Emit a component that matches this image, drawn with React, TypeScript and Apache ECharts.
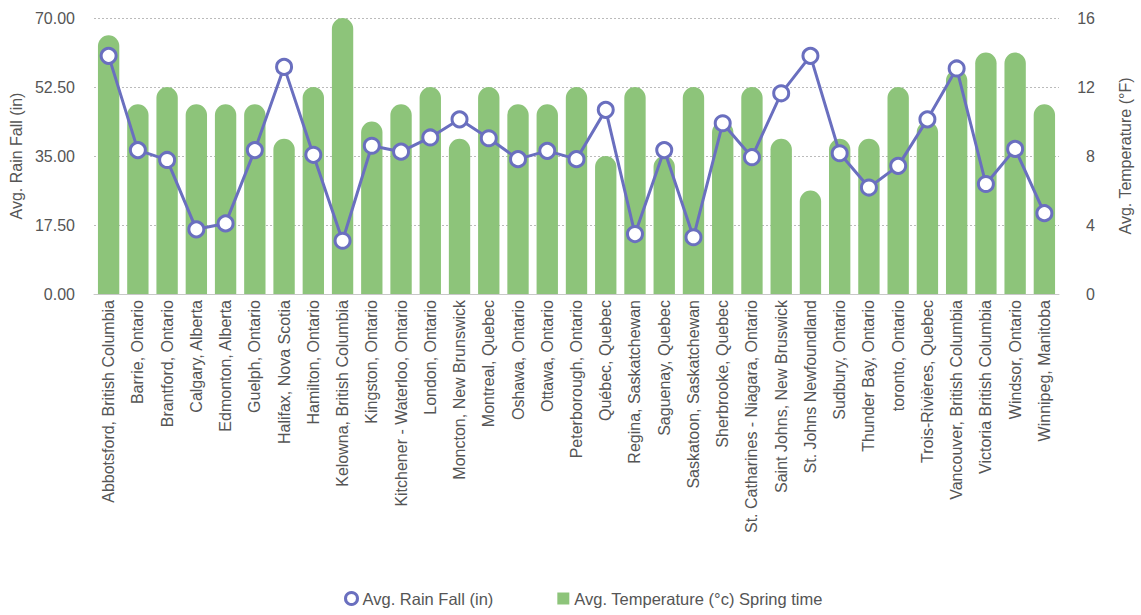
import React, { useEffect, useRef } from "react";
import * as echarts from "echarts";

const cities = [
  "Abbotsford, British Columbia",
  "Barrie, Ontario",
  "Brantford, Ontario",
  "Calgary, Alberta",
  "Edmonton, Alberta",
  "Guelph, Ontario",
  "Halifax, Nova Scotia",
  "Hamilton, Ontario",
  "Kelowna, British Columbia",
  "Kingston, Ontario",
  "Kitchener - Waterloo, Ontario",
  "London, Ontario",
  "Moncton, New Brunswick",
  "Montreal, Quebec",
  "Oshawa, Ontario",
  "Ottawa, Ontario",
  "Peterborough, Ontario",
  "Québec, Quebec",
  "Regina, Saskatchewan",
  "Saguenay, Quebec",
  "Saskatoon, Saskatchewan",
  "Sherbrooke, Quebec",
  "St. Catharines - Niagara, Ontario",
  "Saint Johns, New Bruswick",
  "St. Johns Newfoundland",
  "Sudbury, Ontario",
  "Thunder Bay, Ontario",
  "toronto, Ontario",
  "Trois-Rivières, Quebec",
  "Vancouver, British Columbia",
  "Victoria British Columbia",
  "Windsor, Ontario",
  "Winnipeg, Manitoba",
];

const rainFall = [
  60.4, 36.5, 34.0, 16.4, 17.9, 36.5, 57.6, 35.3, 13.5, 37.6, 36.1, 39.7,
  44.3, 39.5, 34.2, 36.3, 34.2, 46.7, 15.2, 36.5, 14.4, 43.3, 34.7, 50.9,
  60.4, 35.7, 27.0, 32.5, 44.3, 57.2, 27.9, 36.8, 20.5,
];

const temperature = [
  15, 11, 12, 11, 11, 11, 9, 12, 16, 10, 11, 12, 9, 12, 11, 11, 12, 8, 12, 8,
  12, 10, 12, 9, 6, 9, 9, 12, 10, 13, 14, 14, 11,
];

const rainTicks = { min: 0, max: 70, interval: 17.5 };
const tempTicks = { min: 0, max: 16, interval: 4 };

const FONT = "'Liberation Sans', Arial, sans-serif";
const TEXT = "#555555";
const LINE_COLOR = "#6a6fbf";
const BAR_COLOR = "#8dc47a";

export default function App() {
  const ref = useRef<HTMLDivElement>(null);
  useEffect(() => {
    if (!ref.current) return;
    const chart = echarts.init(ref.current, null, { renderer: "svg" });
    chart.setOption({
      animation: false,
      textStyle: { fontFamily: FONT },
      grid: { left: 94, right: 71, top: 18, bottom: 321, containLabel: false },
      legend: {
        bottom: 3,
        left: 339,
        itemGap: 64,
        itemWidth: 12,
        itemHeight: 12,
        itemTextGap: 7,
        textStyle: { fontFamily: FONT, fontSize: 16.5, color: TEXT },
        data: [
          {
            name: "Avg. Rain Fall (in)",
            icon: "circle",
            itemStyle: { color: "#ffffff", borderColor: LINE_COLOR, borderWidth: 3 },
          },
          { name: "Avg. Temperature (°c) Spring time", icon: "rect" },
        ],
      },
      xAxis: {
        type: "category",
        data: cities,
        axisLine: { lineStyle: { color: "#c8c8c8" } },
        axisTick: { show: false },
        axisLabel: {
          rotate: 90,
          interval: 0,
          margin: 6,
          fontSize: 16,
          color: TEXT,
          fontFamily: FONT,
        },
      },
      yAxis: [
        {
          type: "value",
          ...rainTicks,
          name: "Avg. Rain Fall (in)",
          nameLocation: "middle",
          nameGap: 68,
          nameRotate: 90,
          nameTextStyle: { fontSize: 16, color: TEXT, fontFamily: FONT },
          axisLine: { show: false },
          axisTick: { show: false },
          axisLabel: {
            fontSize: 16,
            color: TEXT,
            margin: 19,
            fontFamily: FONT,
            formatter: (v: number) => v.toFixed(2),
          },
          splitLine: { lineStyle: { color: "#bbbbbb", type: [2, 2] } },
        },
        {
          type: "value",
          ...tempTicks,
          position: "right",
          name: "Avg. Temperature (°F)",
          nameLocation: "middle",
          nameGap: 58,
          nameRotate: 90,
          nameTextStyle: { fontSize: 16, color: TEXT, fontFamily: FONT },
          axisLine: { show: false },
          axisTick: { show: false },
          axisLabel: {
            fontSize: 16,
            color: TEXT,
            margin: 36,
            align: "right",
            fontFamily: FONT,
          },
          splitLine: { show: false },
        },
      ],
      series: [
        {
          name: "Avg. Temperature (°c) Spring time",
          type: "bar",
          yAxisIndex: 1,
          data: temperature,
          barCategoryGap: "27%",
          itemStyle: { color: BAR_COLOR, borderRadius: [11, 11, 0, 0] },
          z: 1,
        },
        {
          name: "Avg. Rain Fall (in)",
          type: "line",
          yAxisIndex: 0,
          data: rainFall,
          symbol: "circle",
          symbolSize: 15,
          lineStyle: { color: LINE_COLOR, width: 3 },
          itemStyle: { color: "#ffffff", borderColor: LINE_COLOR, borderWidth: 3 },
          z: 3,
        },
      ],
    });
    return () => chart.dispose();
  }, []);
  return (
    <div
      ref={ref}
      style={{ position: "absolute", left: 0, top: 0, width: 1141, height: 615 }}
    />
  );
}
